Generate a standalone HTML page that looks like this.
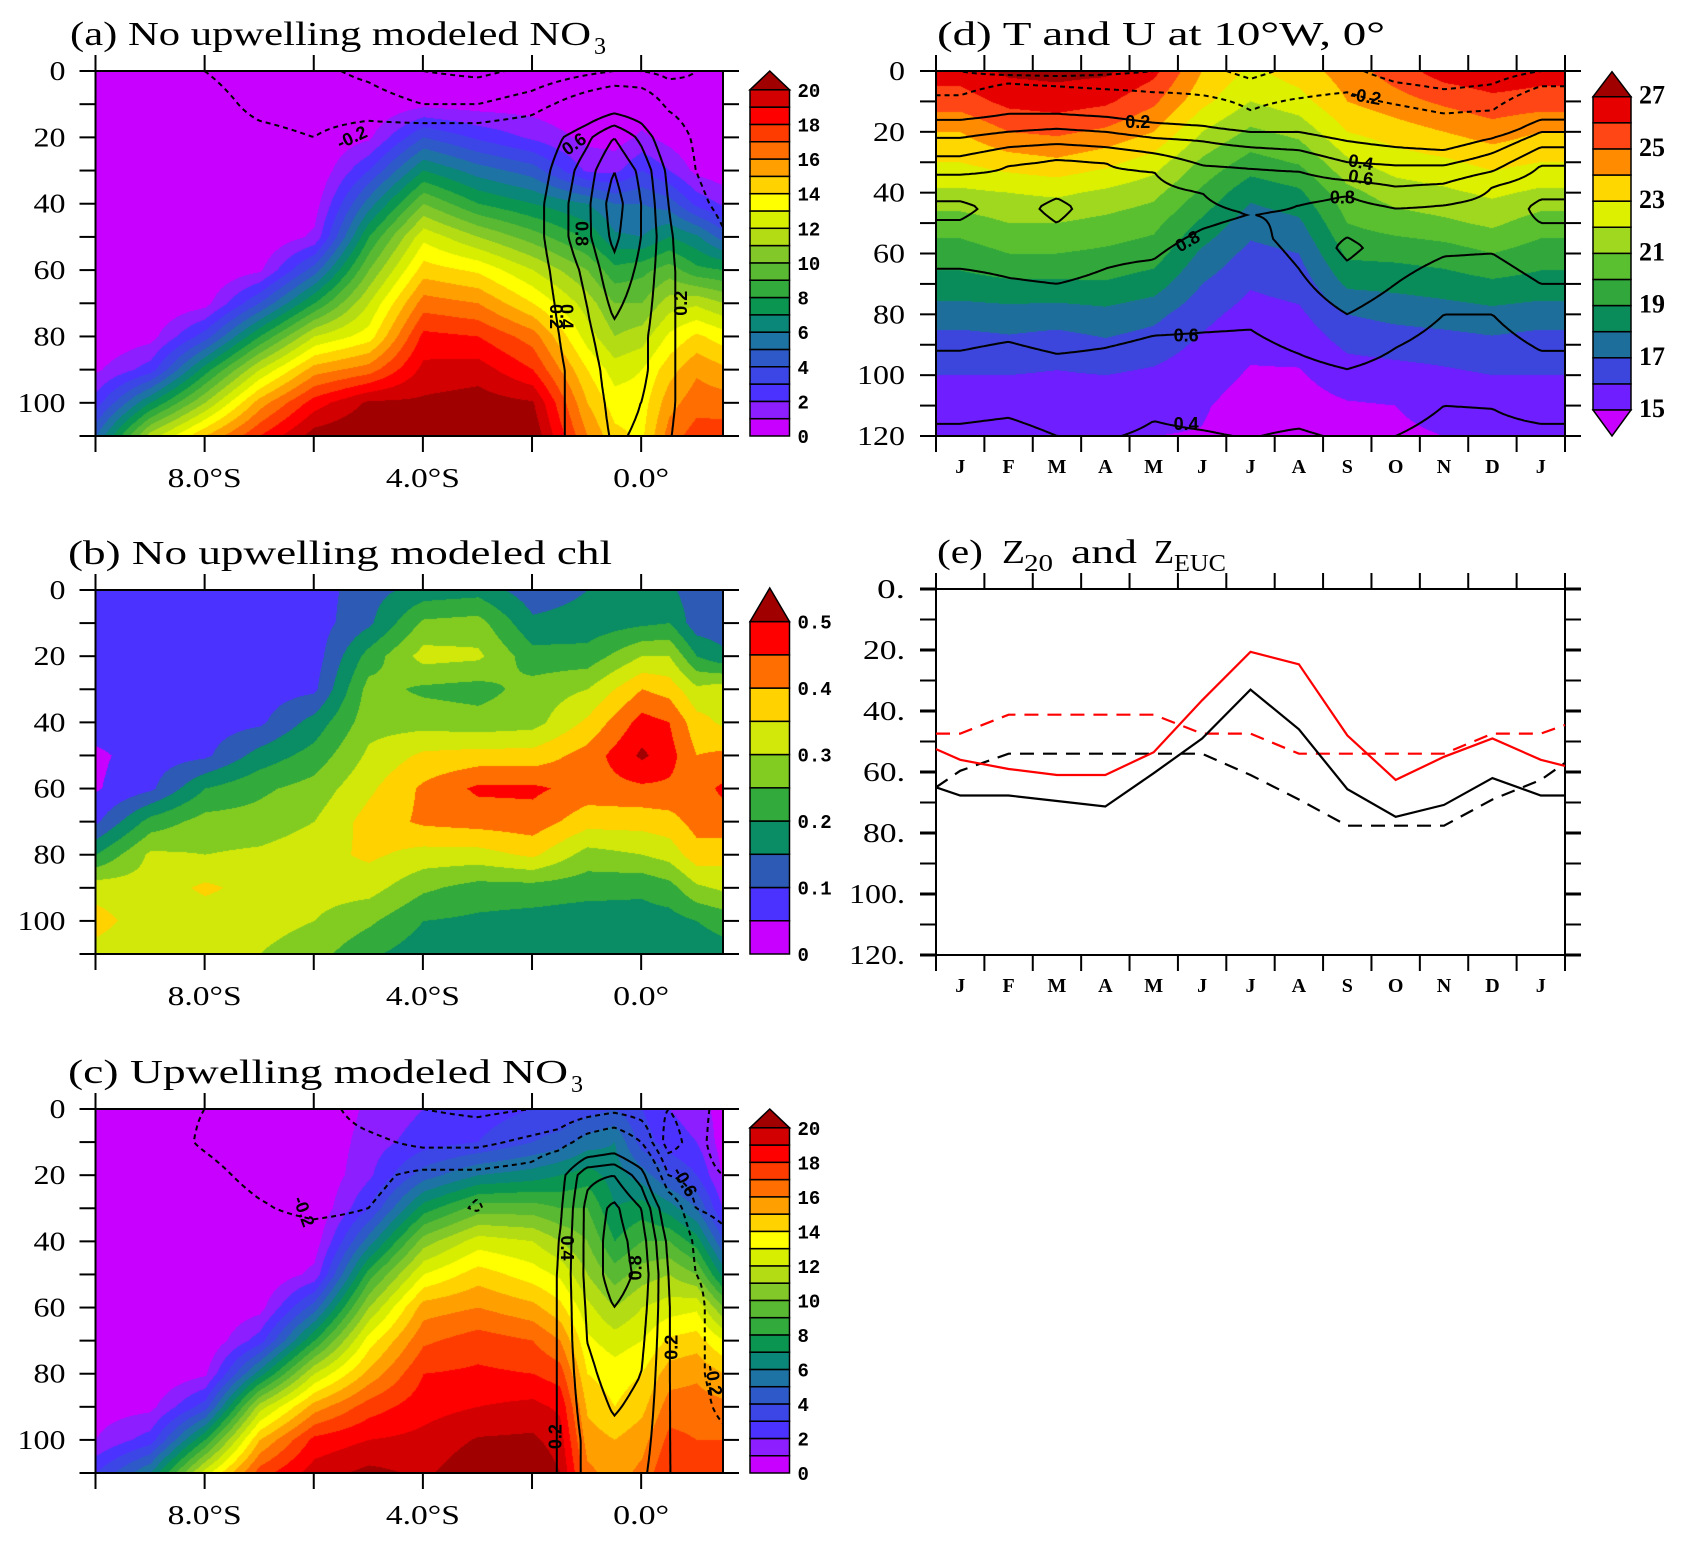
<!DOCTYPE html>
<html><head><meta charset="utf-8"><title>Modeled NO3, chl, T and U sections</title>
<style>
html,body{margin:0;padding:0;background:#fff;}
#page{position:relative;width:1683px;height:1547px;overflow:hidden;background:#fff;}
canvas{position:absolute;}
#ov{position:absolute;left:0;top:0;}
.ttl{font-family:"Liberation Serif",serif;font-size:34px;fill:#000;}
</style></head>
<body>
<div id="page">
<canvas id="cvA"></canvas>
<canvas id="cvB"></canvas>
<canvas id="cvC"></canvas>
<canvas id="cvD"></canvas>
<svg id="ov" width="1683" height="1547" xmlns="http://www.w3.org/2000/svg">
<text class="ttl" x="70" y="45" textLength="521" lengthAdjust="spacingAndGlyphs">(a) No upwelling modeled NO</text>
<text class="ttl" x="594" y="54" style="font-size:24px">3</text>
<text class="ttl" x="68" y="564" textLength="544" lengthAdjust="spacingAndGlyphs">(b) No upwelling modeled chl</text>
<text class="ttl" x="68" y="1083" textLength="500" lengthAdjust="spacingAndGlyphs">(c) Upwelling modeled NO</text>
<text class="ttl" x="571" y="1092" style="font-size:24px">3</text>
<text class="ttl" x="937" y="45" textLength="448" lengthAdjust="spacingAndGlyphs">(d) T and U at 10°W, 0°</text>
<text class="ttl" x="937" y="563" textLength="46" lengthAdjust="spacingAndGlyphs">(e)</text>
<text class="ttl" x="1002" y="563" textLength="23" lengthAdjust="spacingAndGlyphs">Z</text>
<text class="ttl" x="1024" y="571" style="font-size:24px" textLength="29" lengthAdjust="spacingAndGlyphs">20</text>
<text class="ttl" x="1071" y="563" textLength="66" lengthAdjust="spacingAndGlyphs">and</text>
<text class="ttl" x="1154" y="563" textLength="20" lengthAdjust="spacingAndGlyphs">Z</text>
<text class="ttl" x="1174" y="571" style="font-size:24px" textLength="52" lengthAdjust="spacingAndGlyphs">EUC</text>
</svg>
</div>
<script>
// ---------------- DATA ----------------
const noDepths=[0,10,20,30,40,50,60,70,80,90,100,110];
const xNodesA=[-10,-9,-8,-7,-6,-5,-4,-3,-2,-1,-0.5,0,0.5,1,1.5];
const no3A=[
[0,0,0,0,0,0,0,0,0,0.8,2.5,5],
[0,0,0,0,0,0,0,0,0.6,2.5,7,11.5],
[0,0,0,0,0,0,0,0.6,3.5,7.5,11,15],
[0,0,0,0,0,0,0.8,4,8,12,15.5,18],
[0,0,0,0,0.5,1.2,4.5,8,12,15.5,18.5,20.5],
[0,0,0.8,3,5.5,8,10,12,13.5,16.5,20.2,21],
[0,0.7,4,7,10,12.7,14.5,16.5,18.3,19.3,20.2,21],
[0,0.5,2.8,5.5,8,11,13.8,16,18,19.5,20.5,21],
[0,0.5,1.8,4.5,7,9.5,12,14,16.5,18,20.1,20.8],
[0,0,0.7,1.8,6,7.8,10,11.5,12.5,14,15,16],
[0,0,0.5,1.7,5,6.2,8.3,10,11,12.5,13.5,14.3],
[0,0.3,1.2,3,5,6,8.7,10,11.5,13,13.5,13.8],
[0,0,0.6,2,4.5,7,9.5,11.5,13.2,14.6,15.6,16.5],
[0,0,0,0.7,2.7,6.2,8.3,11.8,14.2,15.8,16.6,17.5],
[0,0,0,0.3,1.8,4.5,8,11,13.5,15.2,16.5,17.5]];
const uA=[
[-0.1,-0.05,0,0,0,0,0,0,0,0,0,0],
[-0.12,-0.08,-0.05,0,0,0,0,0,0,0,0,0],
[-0.2,-0.12,-0.1,-0.05,0,0,0,0,0,0,0,0],
[-0.3,-0.25,-0.15,-0.05,0,0,0,0,0,0,0,0],
[-0.35,-0.28,-0.2,-0.05,0,0,0,0,0,0,0,0],
[-0.45,-0.3,-0.1,0,0,0,0,0,0,0,0,0],
[-0.6,-0.4,-0.05,0,0,0,0,0,0,0,0,0],
[-0.65,-0.4,-0.05,0,0,0,0,0,0,0,0,0],
[-0.55,-0.3,0,0.05,0.1,0.1,0.08,0.06,0.05,0.05,0.05,0.05],
[-0.45,-0.05,0.35,0.5,0.55,0.55,0.45,0.4,0.35,0.3,0.3,0.3],
[-0.4,0.05,0.6,0.8,0.9,0.85,0.75,0.65,0.55,0.5,0.45,0.42],
[-0.4,0,0.35,0.55,0.6,0.6,0.55,0.5,0.45,0.45,0.4,0.38],
[-0.45,-0.25,0,0.15,0.2,0.25,0.25,0.25,0.25,0.25,0.25,0.22],
[-0.4,-0.35,-0.25,-0.2,-0.15,-0.05,0.05,0.05,0.05,0.05,0.05,0.05],
[-0.35,-0.35,-0.3,-0.3,-0.25,-0.18,-0.1,0,0,0,0,0]];
const xNodesB=[-10,-9,-8,-7,-6,-5,-4,-3,-2,-1,0,0.5,1,1.5];
const chlB=[
[.075,.075,.075,.075,.075,.04,.045,.09,.2,.33,.37,.33],
[.075,.075,.075,.075,.075,.075,.09,.22,.31,.32,.32,.31],
[.075,.075,.075,.075,.075,.09,.2,.27,.3,.36,.32,.32],
[.075,.075,.075,.075,.09,.17,.24,.27,.31,.33,.32,.3],
[.075,.075,.075,.09,.17,.22,.27,.3,.33,.32,.3,.27],
[.13,.14,.22,.27,.28,.31,.34,.37,.36,.32,.26,.21],
[.17,.26,.32,.24,.28,.36,.41,.41,.33,.26,.2,.17],
[.18,.27,.31,.23,.27,.37,.46,.42,.33,.23,.19,.16],
[.12,.16,.22,.27,.28,.37,.46,.43,.36,.23,.18,.16],
[.15,.17,.22,.3,.36,.42,.43,.37,.28,.22,.17,.16],
[.17,.19,.3,.4,.47,.51,.44,.37,.3,.21,.18,.16],
[.16,.2,.3,.38,.45,.47,.44,.38,.32,.23,.18,.16],
[.12,.12,.2,.31,.37,.4,.43,.42,.38,.29,.2,.17],
[.12,.12,.16,.33,.34,.41,.46,.43,.37,.31,.22,.18]];
const xNodesC=[-10,-9,-8,-7,-6,-5,-4,-3,-2,-1.5,-1,-0.5,0,0.5,1,1.5];
const no3C=[
[0,0,0,0,0,0,0,0,0,0.5,1,3],
[0,0,0,0,0,0,0,0,0,0.7,2.5,6],
[0,0,0,0,0,0,0,0,0.8,3.5,8,12.5],
[0,0,0,0,0,0,0.6,2.5,6.5,11.5,15,17.5],
[0,0,0,0,0.4,1.3,4.5,8,12,15.5,18.3,19.5],
[1.2,1.5,1.8,3,5.5,8.5,11,13.5,15.3,17.5,19,20.3],
[2,2.5,4.5,7.5,10.5,13,15.5,16.8,18,18.6,19.3,19.8],
[2.5,3,6,9.5,12.5,14.5,16,17.5,18.2,19,20.1,20.8],
[3,4,6.5,9.5,12,13.5,15.3,17,18,19.3,20.2,21],
[3,4.5,7,9,11,12.8,14.3,16,17.5,18.8,19.5,20],
[3.5,5.5,7.5,9,10,11,12.3,13.2,14,14.8,15.5,16.3],
[4,6,6.5,7,8,9.5,11,12.5,13.5,14,15,15.5],
[3,3.5,5.5,7.5,9,10.5,12,13,14,14.7,15.6,16.3],
[2,2.5,4,6.5,9,11,12.5,14.2,15.5,16.5,17.3,18],
[1.5,2,3,5,7.5,10,12.8,14.5,15.8,16.5,17,17.8],
[0.5,0.5,0.8,1.8,4,6.5,10,13,15,16.3,17,17.8]];
const uC=[
[-0.1,-0.1,-0.05,0,0,0,0,0,0,0,0,0],
[-0.15,-0.12,-0.1,-0.05,0,0,0,0,0,0,0,0],
[-0.2,-0.22,-0.15,-0.1,-0.05,0,0,0,0,0,0,0],
[-0.3,-0.3,-0.25,-0.18,-0.1,0,0,0,0,0,0,0],
[-0.3,-0.3,-0.3,-0.25,-0.1,0,0,0,0,0,0,0],
[-0.5,-0.35,-0.25,-0.2,-0.1,0,0,0,0,0,0,0],
[-0.6,-0.45,-0.15,-0.1,-0.05,0,0,0,0,0,0,0],
[-0.65,-0.45,-0.15,-0.22,0,0,0,0,0,0,0,0],
[-0.6,-0.35,-0.1,0,0,0,0,0,0,0,0,0],
[-0.55,-0.3,0.1,0.15,0.2,0.22,0.22,0.22,0.22,0.22,0.22,0.22],
[-0.5,-0.1,0.55,0.65,0.65,0.65,0.62,0.6,0.55,0.5,0.45,0.45],
[-0.45,0,0.6,0.85,0.9,0.9,0.8,0.72,0.68,0.62,0.55,0.5],
[-0.5,-0.2,0.3,0.6,0.7,0.75,0.7,0.65,0.6,0.55,0.5,0.45],
[-0.6,-0.7,-0.4,0,0.15,0.2,0.22,0.22,0.22,0.22,0.22,0.22],
[-0.5,-0.5,-0.5,-0.4,-0.25,-0.2,-0.15,-0.15,-0.15,-0.12,-0.1,-0.05],
[-0.3,-0.25,-0.4,-0.45,-0.35,-0.25,-0.3,-0.3,-0.3,-0.25,-0.15,-0.1]];
const monthLabels=['J','F','M','A','M','J','J','A','S','O','N','D','J'];
const monthNodes=[0,1,2,3,4,5,6,7,8,9,10,11,12];
const tDepths=[0,10,20,30,40,50,60,70,80,90,100,110,120];
const tempD=[
[26.5,25.5,24,23,21.8,20.5,19.5,18.6,17.5,16.5,16,15.4,15.1],
[27.2,26.3,25,23.5,22,21,20,18.8,17.6,16.7,16,15.5,15.2],
[27.3,26.5,25.2,23.8,22.2,21,20,18.8,17.5,16.5,15.9,15.4,15.1],
[27.2,26.2,24.8,23.3,21.8,20.7,19.8,18.9,17.7,16.8,16,15.5,15.1],
[26.3,25.2,24,22.5,21.3,20.3,19.5,18.5,17.3,16.5,15.8,15.3,15.0],
[24,23.3,22,20.8,19.8,18.8,17.8,17,16.3,15.8,15.4,15.1,14.95],
[22.8,22,20.8,19.6,18.3,17.4,16.7,16.1,15.6,15.2,14.9,14.6,14.5],
[23.5,22.6,21.3,20.1,18.8,17.8,17,16.4,15.8,15.3,14.9,14.6,14.5],
[24.5,24,23,21.8,20.7,20,19.2,18.2,17,16.2,15.5,14.9,14.7],
[25.5,24.6,23.5,22.5,21.5,20.5,19.3,18.3,17.3,16.4,15.6,15.0,14.9],
[26.5,25.2,24,22.8,21.8,20.8,19.5,18.5,17.5,16.5,15.8,15.2,15],
[26.8,25.7,24.5,23.3,22.2,21.2,20,18.8,17.7,16.7,16,15.4,15.1],
[26.5,25.5,24,23,21.8,20.5,19.5,18.6,17.5,16.5,16,15.4,15.1]];
const uProfD=[
[[0,-0.4],[8,-0.2],[12,0],[16,0.2],[22,0.4],[28,0.6],[34,0.8],[45,1.05],[65,0.8],[92,0.6],[116,0.4],[120,0.37]],
[[0,-0.5],[4,-0.2],[10,0],[14,0.2],[20,0.4],[25,0.6],[31,0.8],[45,0.92],[68,0.8],[89,0.6],[114,0.4],[120,0.35]],
[[0,-0.5],[5,-0.2],[10,0],[14,0.2],[19,0.4],[24,0.6],[29,0.8],[45,1.05],[70,0.8],[93,0.6],[120,0.4]],
[[0,-0.45],[6,-0.2],[11,0],[15,0.2],[20,0.4],[25,0.6],[30,0.8],[45,0.9],[65,0.8],[91,0.6],[120,0.41]],
[[0,-0.4],[7,-0.2],[12,0],[17,0.2],[22,0.4],[27,0.6],[33,0.8],[45,0.88],[62,0.8],[87,0.6],[115,0.4],[120,0.38]],
[[0,-0.35],[8,-0.2],[13,0],[18,0.2],[23,0.4],[31,0.6],[40,0.8],[46,0.83],[52,0.8],[86,0.6],[118,0.4],[120,0.39]],
[[0,-0.45],[13,-0.2],[16,0],[20,0.2],[25,0.4],[32,0.6],[47,0.8],[85,0.6],[121,0.4]],
[[0,-0.35],[9,-0.2],[15,0],[20,0.2],[26,0.4],[33,0.6],[44,0.8],[55,0.85],[65,0.8],[93,0.6],[120,0.38]],
[[0,-0.35],[7,-0.2],[17,0],[23,0.2],[30,0.4],[36,0.6],[41,0.8],[58,1.05],[80,0.8],[98,0.6],[120,0.42]],
[[0,-0.5],[11,-0.2],[19,0],[25,0.2],[31,0.4],[38,0.6],[45,0.8],[58,0.9],[70,0.8],[91,0.6],[120,0.4]],
[[0,-0.55],[14,-0.2],[21,0],[26,0.2],[31,0.4],[37,0.6],[44,0.8],[52,0.88],[61,0.8],[80,0.6],[110,0.4],[120,0.35]],
[[0,-0.5],[13,-0.2],[19,0],[22,0.2],[27,0.4],[33,0.6],[38,0.8],[50,0.9],[60,0.8],[80,0.6],[111,0.4],[120,0.36]],
[[0,-0.4],[5,-0.2],[11,0],[16,0.2],[20,0.4],[25,0.6],[31,0.8],[45,1.05],[70,0.8],[92,0.6],[116,0.4],[120,0.37]]];
const monthPosE=[-0.5,0,1,2,3,4,5,6,7,8,9,10,11,12,12.5];
const z20Exp=[52.5,56,59,61,61,53.5,36.5,20.6,24.7,48,62.6,55,49,56,58];
const z20Clim=[65,67.7,67.7,69.5,71.3,60.4,49,33,46,65.6,74.7,70.8,62,67.7,67.7];
const zEucExp=[47.4,47.4,41.2,41.2,41.2,41.2,47.4,47.4,54,54,54,54,47.4,47.4,44.6];
const zEucClim=[65,59.6,54,54,54,54,54,61,69,77.6,77.6,77.6,69,62.6,57];
const no3Levels=[1,2,3,4,5,6,7,8,9,10,11,12,13,14,15,16,17,18,19,20];
const chlLevels=[0.05,0.1,0.15,0.2,0.25,0.3,0.35,0.4,0.45,0.5];
const tLevels=[15,16,17,18,19,20,21,22,23,24,25,26,27];
const uLevels=[-0.6,-0.4,-0.2,0.2,0.4,0.6,0.8,1.0];
const no3Colors=['#c800ff','#8c1eff','#4b32ff','#3c46e6','#2d5ac8','#1e73a5','#0a8778','#0a9650','#32aa3c','#5ab932','#82c828','#b4dc14','#d7ee00','#ffff00','#ffd200','#ffa000','#ff6e00','#ff3c00','#ff0000','#d20000','#a00000'];
const chlColors=['#c800ff','#4b32ff','#2d5ab4','#0a8c64','#32aa3c','#82cc22','#d2e80a','#ffd200','#ff6e00','#ff0000','#a00000'];
const tColors=['#c800ff','#6e1eff','#3c46dc','#1e6e9b','#0a8c5a','#32a83c','#5ac030','#a0d820','#dcf000','#ffd700','#ff8c00','#ff4614','#e60000','#a00000'];

// ---------------- HELPERS ----------------
const NS='http://www.w3.org/2000/svg';
const svg=document.getElementById('ov');
function mk(tag,attrs,parent){const e=document.createElementNS(NS,tag);for(const k in attrs)e.setAttribute(k,attrs[k]);(parent||svg).appendChild(e);return e;}
function seg(a,v){const n=a.length;if(v<=a[0])return[0,0];if(v>=a[n-1])return[n-2,1];let i=0;while(a[i+1]<v)i++;return[i,(v-a[i])/(a[i+1]-a[i])];}
function interp(xs,ds,cols,x,d){const s1=seg(xs,x),s2=seg(ds,d);const i=s1[0],tx=s1[1],j=s2[0],td=s2[1];
 const a=cols[i][j],b=cols[i][j+1],c=cols[i+1][j],e=cols[i+1][j+1];return (a*(1-td)+b*td)*(1-tx)+(c*(1-td)+e*td)*tx;}
function profVal(p,d){if(d<=p[0][0])return p[0][1];for(let k=0;k<p.length-1;k++){if(d<=p[k+1][0]){const t=(d-p[k][0])/(p[k+1][0]-p[k][0]);return p[k][1]*(1-t)+p[k+1][1]*t;}}return p[p.length-1][1];}
function uDfn(m,d){const s=seg(monthNodes,m);return profVal(uProfD[s[0]],d)*(1-s[1])+profVal(uProfD[s[0]+1],d)*s[1];}
function panel(L,T,R,B,x0,x1,d1){return{L,T,R,B,x0,x1,d1,sx:x=>L+(x-x0)/(x1-x0)*(R-L),sy:d=>T+d/d1*(B-T)};}
const PA=panel(95.5,71,723,436,-10,1.5,110);
const PB=panel(95.5,590,723,954,-10,1.5,110);
const PC=panel(95.5,1109,723,1473,-10,1.5,110);
const PD=panel(936,71,1565,436,-0.5,12.5,120);
const PE=panel(936,589,1565,955,-0.5,12.5,120);
function hex(c){return[parseInt(c.substr(1,2),16),parseInt(c.substr(3,2),16),parseInt(c.substr(5,2),16)];}
function fill(P,id,fn,levels,colors){const cv=document.getElementById(id);const W=Math.round(P.R-P.L),H=Math.round(P.B-P.T);
 cv.width=W;cv.height=H;cv.style.left=P.L+'px';cv.style.top=P.T+'px';const ctx=cv.getContext('2d');const im=ctx.createImageData(W,H);const rgb=colors.map(hex);
 for(let py=0;py<H;py++){const d=(py+0.5)/H*P.d1;for(let px=0;px<W;px++){const x=P.x0+(px+0.5)/W*(P.x1-P.x0);const v=fn(x,d);let k=0;while(k<levels.length&&v>=levels[k])k++;const c=rgb[k];const o=(py*W+px)*4;im.data[o]=c[0];im.data[o+1]=c[1];im.data[o+2]=c[2];im.data[o+3]=255;}}
 ctx.putImageData(im,0,0);}
function contour(P,fn,level){const st=3;const W=P.R-P.L,H=P.B-P.T;const nx=Math.ceil(W/st)+1,ny=Math.ceil(H/st)+1;
 const X=i=>Math.min(i*st,W),Y=j=>Math.min(j*st,H);const v=[];
 for(let j=0;j<ny;j++){v.push([]);for(let i=0;i<nx;i++){v[j].push(fn(P.x0+X(i)/W*(P.x1-P.x0),Y(j)/H*P.d1)-level);}}
 const pos={},adj={};
 function ep(key,x1,y1,a,x2,y2,b){if(!pos[key]){const t=a/(a-b);pos[key]=[P.L+x1+(x2-x1)*t,P.T+y1+(y2-y1)*t];}return key;}
 function link(a,b){(adj[a]=adj[a]||[]).push(b);(adj[b]=adj[b]||[]).push(a);}
 for(let j=0;j<ny-1;j++)for(let i=0;i<nx-1;i++){const a=v[j][i],b=v[j][i+1],c=v[j+1][i+1],d=v[j+1][i];
  const x0=X(i),x1=X(i+1),y0=Y(j),y1=Y(j+1);const e=[];
  if((a>0)!==(b>0))e.push(ep('h'+i+'_'+j,x0,y0,a,x1,y0,b));else e.push(null);
  if((b>0)!==(c>0))e.push(ep('v'+(i+1)+'_'+j,x1,y0,b,x1,y1,c));else e.push(null);
  if((d>0)!==(c>0))e.push(ep('h'+i+'_'+(j+1),x0,y1,d,x1,y1,c));else e.push(null);
  if((a>0)!==(d>0))e.push(ep('v'+i+'_'+j,x0,y0,a,x0,y1,d));else e.push(null);
  const k=e.filter(q=>q);if(k.length===2)link(k[0],k[1]);else if(k.length===4){const cen=(a+b+c+d)/4;if((cen>0)===(a>0)){link(e[0],e[1]);link(e[2],e[3]);}else{link(e[0],e[3]);link(e[1],e[2]);}}}
 const used={},lines=[];
 function walk(s){const pts=[pos[s]];used[s]=1;let cur=s,prev=null;while(true){const nb=(adj[cur]||[]).filter(n=>n!==prev&&!used[n]);if(!nb.length){const back=(adj[cur]||[]).filter(n=>n===s&&prev!==s);if(back.length&&pts.length>2)pts.push(pos[s]);break;}prev=cur;cur=nb[0];used[cur]=1;pts.push(pos[cur]);}return pts;}
 for(const k in adj)if(!used[k]&&adj[k].length===1)lines.push(walk(k));
 for(const k in adj)if(!used[k])lines.push(walk(k));
 return lines;}
function drawContours(P,fn,levels,gname){const g=mk('g',{});
 
 
 levels.forEach(lv=>{contour(P,fn,lv).forEach(pts=>{if(pts.length<2)return;
  const p=mk('path',{d:'M'+pts.map(q=>q[0].toFixed(1)+','+q[1].toFixed(1)).join('L'),fill:'none',stroke:'#000','stroke-width':2,'stroke-dasharray':lv<0?'5,4':'none'},g);
  
  });});}
function clabel(P,x,d,txt,rot){const t=mk('text',{x:P.sx(x),y:P.sy(d),'font-family':'Liberation Sans, sans-serif','font-weight':'bold','font-size':18,'text-anchor':'middle','dominant-baseline':'central',transform:'rotate('+rot+' '+P.sx(x)+' '+P.sy(d)+')'});
 t.textContent=txt;
 
 }
function frame(P,name){const r=mk('rect',{x:P.L,y:P.T,width:P.R-P.L,height:P.B-P.T,fill:'none',stroke:'#000','stroke-width':2});
 
 }
function tick(x1,y1,x2,y2,w){const l=mk('line',{x1,y1,x2,y2,stroke:'#000','stroke-width':w||2});
 
 }
function label(x,y,txt,anchor,size,fam,weight,name,len){const a={x,y,'text-anchor':anchor,'font-size':size,'font-family':fam,'font-weight':weight||'normal'};
 if(len){a.textLength=len;a.lengthAdjust='spacingAndGlyphs';}
 const t=mk('text',a);
 t.textContent=txt;
 
 }
const SERIF='Liberation Serif, serif';
function latAxes(P){for(let d=0;d<=110;d+=10){tick(P.L-16,P.sy(d),P.L,P.sy(d));tick(P.R,P.sy(d),P.R+16,P.sy(d));}
 for(let d=0;d<=100;d+=20){const s=String(d);label(P.L-30,P.sy(d)+9,s,'end',27,SERIF,'normal','y-tick-label',s.length*16);}
 for(let x=-10;x<=0;x+=2){tick(P.sx(x),P.T-16,P.sx(x),P.T);tick(P.sx(x),P.B,P.sx(x),P.B+16);}
 [[-8,'8.0°S',74],[-4,'4.0°S',74],[0,'0.0°',56]].forEach(q=>label(P.sx(q[0]),P.B+51,q[1],'middle',27,SERIF,'normal','x-tick-label',q[2]));}
function monthAxes(P,fmt){for(let d=0;d<=120;d+=10){const w=(d%20===0&&fmt)?3:2;tick(P.L-16,P.sy(d),P.L,P.sy(d),w);tick(P.R,P.sy(d),P.R+16,P.sy(d),w);}
 for(let d=0;d<=120;d+=20){const s=fmt?d+'.':String(d);label(P.L-31,P.sy(d)+9,s,'end',27,SERIF,'normal','y-tick-label',fmt?s.length*14:s.length*16);}
 for(let k=0;k<=13;k++){const x=P.sx(k-0.5);tick(x,P.T-16,x,P.T);tick(x,P.B,x,P.B+16);}
 monthLabels.forEach((m,k)=>label(P.sx(k),P.B+37,m,'middle',20,SERIF,'bold','month-label'));}
function colorbar(x,w,triTop,rTop,rBot,triBot,colors,nBox,offset,labels,fmtY,fam,size,name){const g=mk('g',{});
 
 
 const h=(rBot-rTop)/nBox;
 for(let i=0;i<nBox;i++){const r=mk('rect',{x,y:rBot-(i+1)*h,width:w,height:h,fill:colors[i+offset],stroke:'#000','stroke-width':1.5},g);
  
  }
 const tp=mk('polygon',{points:x+','+rTop+' '+(x+w)+','+rTop+' '+(x+w/2)+','+triTop,fill:colors[nBox+offset],stroke:'#000','stroke-width':1.5},g);
 
 
 if(triBot){const bp=mk('polygon',{points:x+','+rBot+' '+(x+w)+','+rBot+' '+(x+w/2)+','+triBot,fill:colors[0],stroke:'#000','stroke-width':1.5},g);
  
  }
 labels.forEach(L=>{const t=mk('text',{x:x+w+8,y:fmtY(L)+7,'font-family':fam,'font-weight':'bold','font-size':size},g);
  t.textContent=L[1];
  
  });}

// ---------------- PANEL A ----------------
fill(PA,'cvA',(x,d)=>interp(xNodesA,noDepths,no3A,x,d),no3Levels,no3Colors);
drawContours(PA,(x,d)=>interp(xNodesA,noDepths,uA,x,d),uLevels,'contours-u-a');
clabel(PA,-5.3,20,'-0.2',-25);clabel(PA,-1.23,22,'0.6',-35);clabel(PA,-1.09,49,'0.8',90);
clabel(PA,-1.56,74,'0.2',90);clabel(PA,-1.37,74,'0.4',90);clabel(PA,0.73,70,'0.2',-90);
frame(PA,'plot-frame-a');latAxes(PA);
colorbar(750,39.5,71,89.8,436,0,no3Colors,20,0,[0,2,4,6,8,10,12,14,16,18,20].map(v=>[v,String(v)]),L=>436-L[0]/20*(436-89.8),'Liberation Mono, monospace',19,'colorbar-a');
// ---------------- PANEL B ----------------
fill(PB,'cvB',(x,d)=>interp(xNodesB,noDepths,chlB,x,d),chlLevels,chlColors);
frame(PB,'plot-frame-b');latAxes(PB);
colorbar(750,39.5,588,621.6,954,0,chlColors,10,0,[[0,'0'],[0.1,'0.1'],[0.2,'0.2'],[0.3,'0.3'],[0.4,'0.4'],[0.5,'0.5']],L=>954-L[0]/0.5*(954-621.6),'Liberation Mono, monospace',19,'colorbar-b');
// ---------------- PANEL C ----------------
fill(PC,'cvC',(x,d)=>interp(xNodesC,noDepths,no3C,x,d),no3Levels,no3Colors);
drawContours(PC,(x,d)=>interp(xNodesC,noDepths,uC,x,d),uLevels,'contours-u-c');
clabel(PC,-6.18,31,'-0.2',70);clabel(PC,-1.36,42,'0.4',90);clabel(PC,-0.1,48,'0.8',-90);
clabel(PC,0.56,72,'0.2',-90);clabel(PC,-1.57,99,'0.2',-90);clabel(PC,0.8,22,'-0.6',60);clabel(PC,1.33,82,'-0.2',80);
frame(PC,'plot-frame-c');latAxes(PC);
colorbar(750,39.5,1109,1127.8,1473,0,no3Colors,20,0,[0,2,4,6,8,10,12,14,16,18,20].map(v=>[v,String(v)]),L=>1473-L[0]/20*(1473-1127.8),'Liberation Mono, monospace',19,'colorbar-c');
// ---------------- PANEL D ----------------
fill(PD,'cvD',(m,d)=>interp(monthNodes,tDepths,tempD,m,d),tLevels,tColors);
drawContours(PD,uDfn,uLevels,'contours-u-d');
clabel(PD,3.67,16.7,'0.2',0);clabel(PD,8.38,8.4,'-0.2',10);clabel(PD,8.28,30,'0.4',10);clabel(PD,8.28,35,'0.6',10);
clabel(PD,7.9,41.6,'0.8',0);clabel(PD,4.7,56,'0.8',-30);clabel(PD,4.67,87,'0.6',0);clabel(PD,4.67,116,'0.4',0);
frame(PD,'plot-frame-d');monthAxes(PD,false);
colorbar(1593,38,71.7,96.7,410,436,tColors,12,1,[15,17,19,21,23,25,27].map(v=>[v,String(v)]),L=>410-(L[0]-15)/12*(410-96.7),SERIF,26,'colorbar-d');
// ---------------- PANEL E ----------------
frame(PE,'plot-frame-e');monthAxes(PE,true);
function series(vals,color,dash,name){const pts=monthPosE.map((m,i)=>PE.sx(m).toFixed(1)+','+PE.sy(vals[i]).toFixed(1));
 const p=mk('polyline',{points:pts.join(' '),fill:'none',stroke:color,'stroke-width':2.2,'stroke-dasharray':dash});
 
 }
series(zEucClim,'#000','14,9','line-zeuc-black-dashed');
series(zEucExp,'#ff0000','14,9','line-zeuc-red-dashed');
series(z20Clim,'#000','none','line-z20-black');
series(z20Exp,'#ff0000','none','line-z20-red');
</script>
</body></html>
